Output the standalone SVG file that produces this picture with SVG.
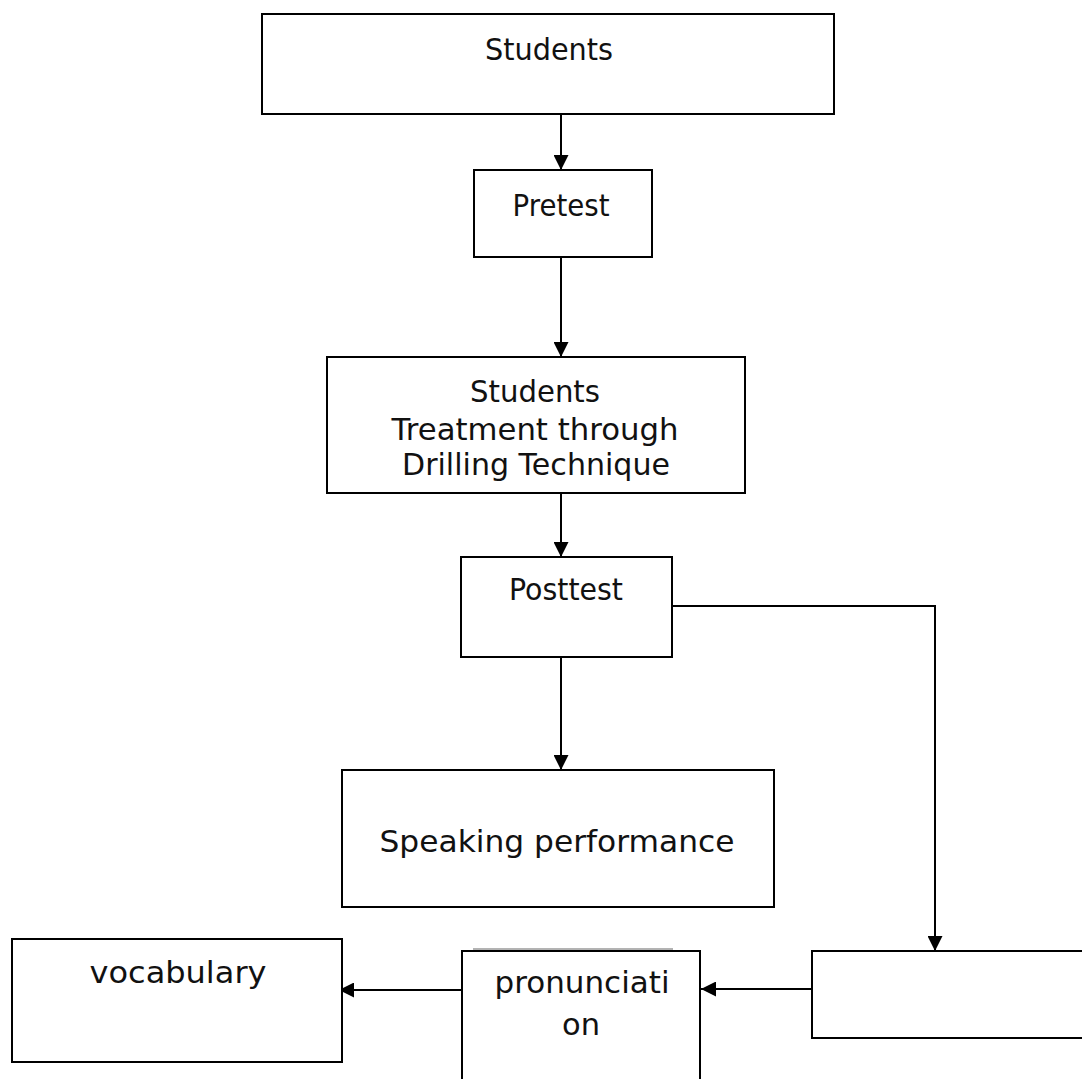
<svg xmlns="http://www.w3.org/2000/svg" width="1082" height="1079" viewBox="0 0 1082 1079">
<style>
.box{fill:#fff;stroke:#000;stroke-width:2}
.t{font-family:"DejaVu Sans","Liberation Sans",sans-serif;font-size:30px;fill:#111;text-anchor:middle}
.c{fill:none;stroke:#000;stroke-width:2}
</style>
<defs>
<marker id="ah" viewBox="0 0 10 10" refX="10" refY="5" markerWidth="7.5" markerHeight="7.5" orient="auto" markerUnits="strokeWidth">
<path d="M0,0 L10,5 L0,10 z" fill="#000"/>
</marker>
<clipPath id="clipT"><rect x="327" y="357" width="418" height="126"/></clipPath>
</defs>
<rect width="1082" height="1079" fill="#fff"/>
<g id="connectors">
<line class="c" x1="561" y1="114" x2="561" y2="170" marker-end="url(#ah)"/>
<line class="c" x1="561" y1="257" x2="561" y2="357" marker-end="url(#ah)"/>
<line class="c" x1="561" y1="493" x2="561" y2="557" marker-end="url(#ah)"/>
<line class="c" x1="561" y1="657" x2="561" y2="770" marker-end="url(#ah)"/>
<polyline class="c" points="672,606 935,606 935,951" marker-end="url(#ah)"/>
<line class="c" x1="812" y1="989" x2="701" y2="989" marker-end="url(#ah)"/>
<line class="c" x1="462" y1="990" x2="339" y2="990" marker-end="url(#ah)"/>
</g>
<g id="students">
<rect class="box" x="262" y="14" width="572" height="100"/>
<text class="t" x="549" y="60" textLength="128" lengthAdjust="spacingAndGlyphs">Students</text>
</g>
<g id="pretest">
<rect class="box" x="474" y="170" width="178" height="87"/>
<text class="t" x="561" y="216" textLength="97" lengthAdjust="spacingAndGlyphs">Pretest</text>
</g>
<g id="treatment">
<rect class="box" x="327" y="357" width="418" height="136"/>
<g clip-path="url(#clipT)">
<text class="t" x="535" y="402" textLength="130" lengthAdjust="spacingAndGlyphs">Students</text>
<text class="t" x="535" y="440" textLength="287" lengthAdjust="spacingAndGlyphs">Treatment through</text>
<text class="t" x="536" y="475" textLength="268" lengthAdjust="spacingAndGlyphs">Drilling Technique</text>
</g>
</g>
<g id="posttest">
<rect class="box" x="461" y="557" width="211" height="100"/>
<text class="t" x="566" y="600" textLength="114" lengthAdjust="spacingAndGlyphs">Posttest</text>
</g>
<g id="speaking">
<rect class="box" x="342" y="770" width="432" height="137"/>
<text class="t" x="557" y="852" textLength="355" lengthAdjust="spacingAndGlyphs">Speaking performance</text>
</g>
<g id="vocabulary">
<rect class="box" x="12" y="939" width="330" height="123"/>
<text class="t" x="178" y="983" textLength="177" lengthAdjust="spacingAndGlyphs">vocabulary</text>
</g>
<g id="pronunciation">
<line x1="473" y1="949" x2="673" y2="949" stroke="#666" stroke-width="1"/>
<rect class="box" x="462" y="951" width="238" height="140"/>
<text class="t" x="582" y="993" textLength="175" lengthAdjust="spacingAndGlyphs">pronunciati</text>
<text class="t" x="581" y="1035" textLength="38" lengthAdjust="spacingAndGlyphs">on</text>
</g>
<g id="blank">
<rect class="box" x="812" y="951" width="280" height="87"/>
</g>
</svg>
